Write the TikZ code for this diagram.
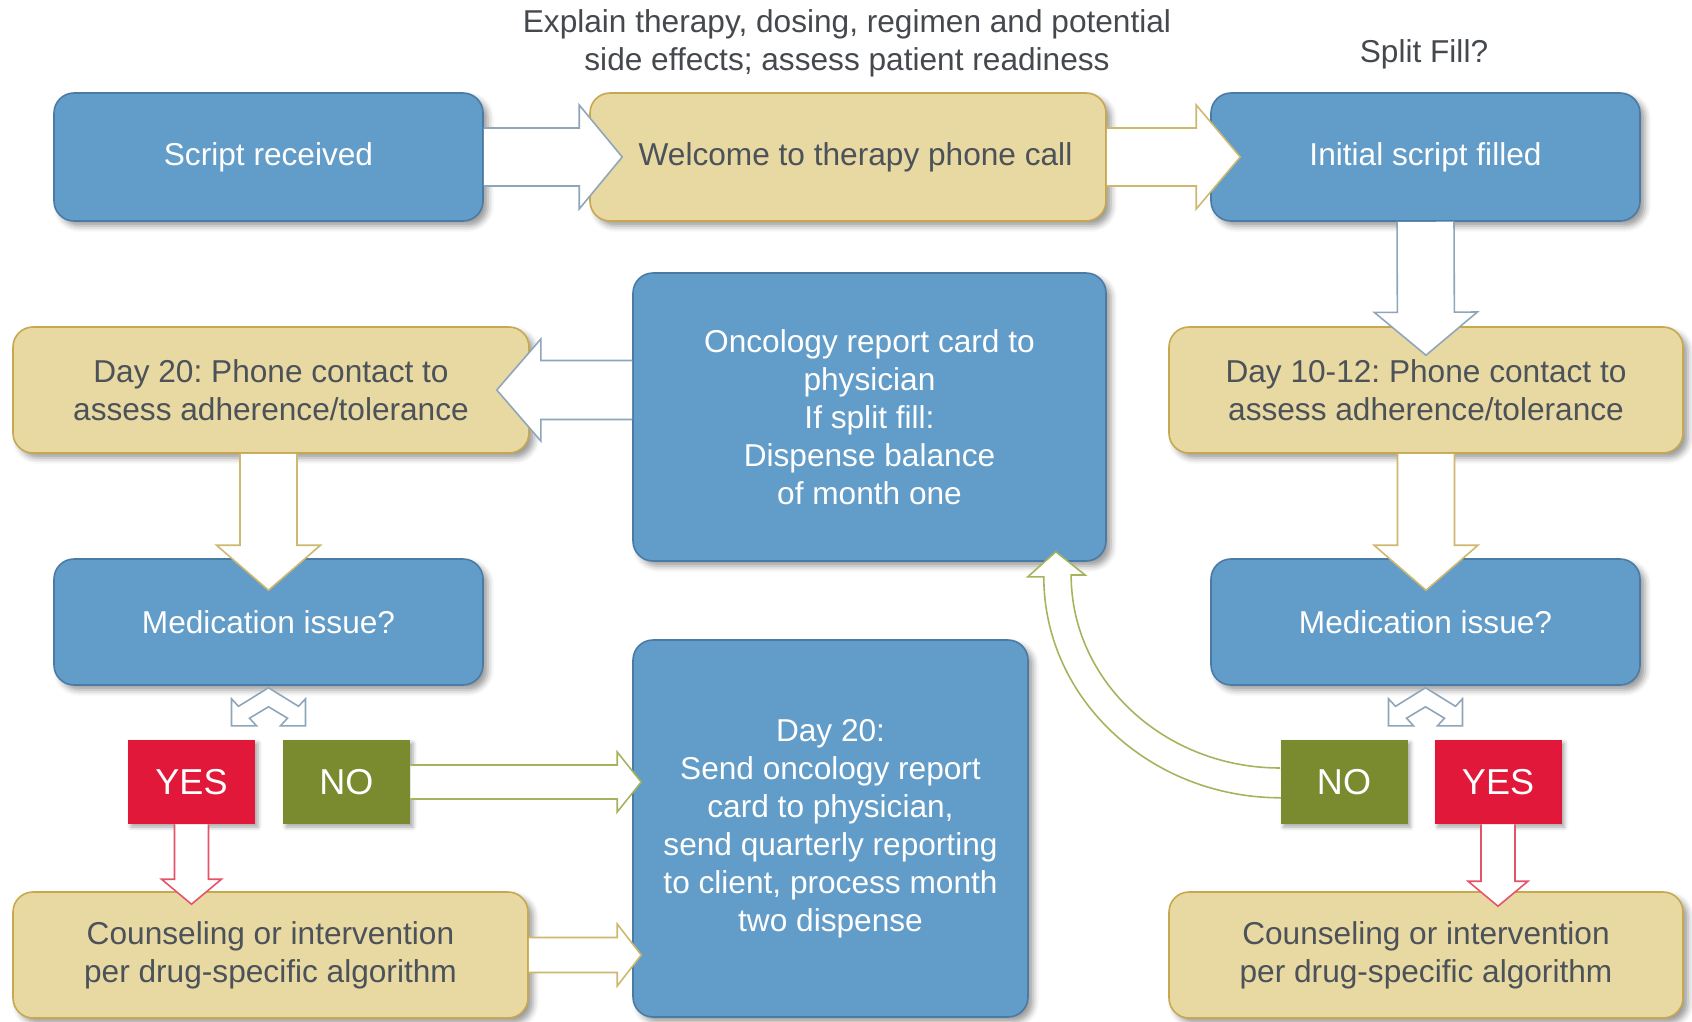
\documentclass[tikz,border=0pt]{standalone}
\usepackage{fontspec}
\setmainfont{Liberation Sans}
\usetikzlibrary{calc,shadows.blur}
\frenchspacing

\definecolor{cardblue}{HTML}{629CC8}
\definecolor{cardblueline}{HTML}{4A7BA5}
\definecolor{cardtan}{HTML}{E8D8A1}
\definecolor{cardtanline}{HTML}{C7A84F}
\definecolor{cardtext}{HTML}{4B5259}
\definecolor{headtext}{HTML}{45494E}
\definecolor{yesred}{HTML}{E2183A}
\definecolor{nogreen}{HTML}{7A8B2F}
\definecolor{pipeblue}{HTML}{8EA5BA}
\definecolor{pipetan}{HTML}{CDB86E}
\definecolor{pipegreen}{HTML}{A3B45C}
\definecolor{pipered}{HTML}{E5536B}

% fat arrow: from, tip, half shaft, half head, head length, outline colour
\newcommand{\blockarrow}[6]{%
  \coordinate (hb) at ($(#2)!#5!(#1)$);
  \fill[white] ($(#1)!#3!90:(#2)$) -- ($(hb)!#3!90:(#2)$) -- ($(hb)!#4!90:(#2)$)
    -- (#2) -- ($(hb)!#4!-90:(#2)$) -- ($(hb)!#3!-90:(#2)$) -- ($(#1)!#3!-90:(#2)$) -- cycle;
  \draw[#6, line width=0.9pt, line join=miter] ($(#1)!#3!90:(#2)$) -- ($(hb)!#3!90:(#2)$)
    -- ($(hb)!#4!90:(#2)$) -- (#2) -- ($(hb)!#4!-90:(#2)$) -- ($(hb)!#3!-90:(#2)$)
    -- ($(#1)!#3!-90:(#2)$);
}

\begin{document}
\begin{tikzpicture}
	[x=0.2mm, y=-0.2mm,
	card/.style={rectangle,rounded corners=4mm,line width=0.9pt,align=center,inner sep=0pt,
		font=\fontsize{18}{21.6}\selectfont,
		blur shadow={shadow xshift=1mm,shadow yshift=-1mm,shadow blur radius=1.2mm,shadow opacity=40}},
	bluecard/.style={card,fill=cardblue,draw=cardblueline,text=white},
	tancard/.style={card,fill=cardtan,draw=cardtanline,text=cardtext},
	answer/.style={rectangle,minimum width=25.4mm,minimum height=16.8mm,text=white,
		font=\fontsize{20.5}{24}\selectfont,
		blur shadow={shadow xshift=0.6mm,shadow yshift=-0.6mm,shadow blur radius=0.8mm,shadow opacity=35}},
	yesbox/.style={answer,fill=yesred},
	nobox/.style={answer,fill=nogreen},
	fork/.style={fill=white,draw=pipeblue,line width=0.9pt,line join=miter},
	note/.style={align=center,text=headtext,font=\fontsize{18}{21.6}\selectfont}]
	\useasboundingbox (0,0) rectangle (1692,1022);

	% top row
	\node (script) [bluecard,minimum width=85.8mm,minimum height=25.6mm] at (268.5,157) {Script received};
	\node (welcome) [tancard,minimum width=103.2mm,minimum height=25.6mm] at (848,157) {\hspace*{3mm}Welcome to therapy phone call};
	\node (initial) [bluecard,minimum width=85.8mm,minimum height=25.6mm] at (1425.5,157) {Initial script filled};
	\node (explain) [note] at (847,43) {Explain therapy, dosing, regimen and potential\\side effects; assess patient readiness};
	\node (split) [note] at (1424,54) {Split Fill?};

	% middle row
	\node (day20) [tancard,minimum width=103.2mm,minimum height=25.2mm] at (271,390) {Day 20: Phone contact to\\assess adherence/tolerance};
	\node (report) [bluecard,minimum width=94.6mm,minimum height=57.6mm] at (869.5,417) {Oncology report card to\\physician\\If split fill:\\Dispense balance\\of month one};
	\node (day10) [tancard,minimum width=102.8mm,minimum height=25.2mm] at (1426,390) {Day 10-12: Phone contact to\\assess adherence/tolerance};

	\node (issuel) [bluecard,minimum width=85.8mm,minimum height=25.2mm] at (268.5,622) {Medication issue?};
	\node (issuer) [bluecard,minimum width=85.8mm,minimum height=25.2mm] at (1425.5,622) {Medication issue?};

	\node (yesl) [yesbox] at (191.5,782) {YES};
	\node (nol) [nobox] at (346.5,782) {NO};
	\node (nor) [nobox] at (1344,782) {NO};
	\node (yesr) [yesbox] at (1498,782) {YES};

	% bottom row
	\node (send) [bluecard,minimum width=79mm,minimum height=75.4mm] at (830.5,828.5) {Day 20:\\Send oncology report\\card to physician,\\send quarterly reporting\\to client, process month\\two dispense};
	\node (counsl) [tancard,minimum width=103mm,minimum height=25.2mm] at (270.5,955) {Counseling or intervention\\per drug-specific algorithm};
	\node (counsr) [tancard,minimum width=102.8mm,minimum height=25.2mm] at (1426,955) {Counseling or intervention\\per drug-specific algorithm};

	% arrow ends
	\coordinate (t1) at ($(welcome.west)+(33,0)$);
	\coordinate (t2) at ($(initial.west)+(30,0)$);
	\coordinate (t3) at ($(day10.north)+(0,29)$);
	\coordinate (s4) at (report.west |- day20.east);
	\coordinate (t4) at ($(day20.east)+(-33,0)$);
	\coordinate (s5) at (issuel.north |- day20.south);
	\coordinate (t5) at ($(issuel.north)+(0,32)$);
	\coordinate (s6) at (day10.south);
	\coordinate (t6) at ($(day10.south |- issuer.north)+(0,32)$);
	\coordinate (t7) at ($(send.west |- nol.east)+(9,0)$);
	\coordinate (t8) at ($(send.west |- counsl.east)+(9,0)$);
	\coordinate (t9) at ($(yesl.south |- counsl.north)+(0,13)$);
	\coordinate (t10) at ($(yesr.south |- counsr.north)+(0,15)$);

	\blockarrow{script.east}{t1}{5.8mm}{10.4mm}{8.6mm}{pipeblue}
	\blockarrow{welcome.east}{t2}{5.8mm}{10.4mm}{8.8mm}{pipetan}
	\blockarrow{initial.south}{t3}{5.7mm}{10.3mm}{8.6mm}{pipeblue}
	\blockarrow{s4}{t4}{5.9mm}{10.2mm}{8.8mm}{pipeblue}
	\blockarrow{s5}{t5}{5.7mm}{10.4mm}{9mm}{pipetan}
	\blockarrow{s6}{t6}{5.7mm}{10.4mm}{9mm}{pipetan}
	\blockarrow{nol.east}{t7}{3.4mm}{6mm}{4.8mm}{pipegreen}
	\blockarrow{counsl.east}{t8}{3.5mm}{6.2mm}{4.8mm}{pipetan}
	\blockarrow{yesl.south}{t9}{3.4mm}{6mm}{5mm}{pipered}
	\blockarrow{yesr.south}{t10}{3.4mm}{6mm}{5mm}{pipered}

	% split arrows under the questions
	\foreach \q in {issuel,issuer}
		\draw[fork,shift={(\q.south)}] (0,2) -- (-30,20.5) -- (-37,13) -- (-37,40) -- (-12,40) -- (-19,32.4)
			-- (0,21) -- (19,32.4) -- (12,40) -- (37,40) -- (37,13) -- (30,20.5) -- cycle;

	% NO on the right goes back up to the report card
	\coordinate (t11) at ($(report.south east)+(-51,-10)$);
	\fill[white] ($(nor.west)+(0,-14)$) arc[start angle=90,end angle=180,x radius=209,y radius=193]
		-- ++(14,0) -- (t11) -- ++(-28,25) -- ++(16,0)
		arc[start angle=180,end angle=90,x radius=237,y radius=221] -- cycle;
	\draw[pipegreen,line width=0.9pt,line join=miter] ($(nor.west)+(0,-14)$)
		arc[start angle=90,end angle=180,x radius=209,y radius=193]
		-- ++(14,0) -- (t11) -- ++(-28,25) -- ++(16,0)
		arc[start angle=180,end angle=90,x radius=237,y radius=221];
\end{tikzpicture}
\end{document}
